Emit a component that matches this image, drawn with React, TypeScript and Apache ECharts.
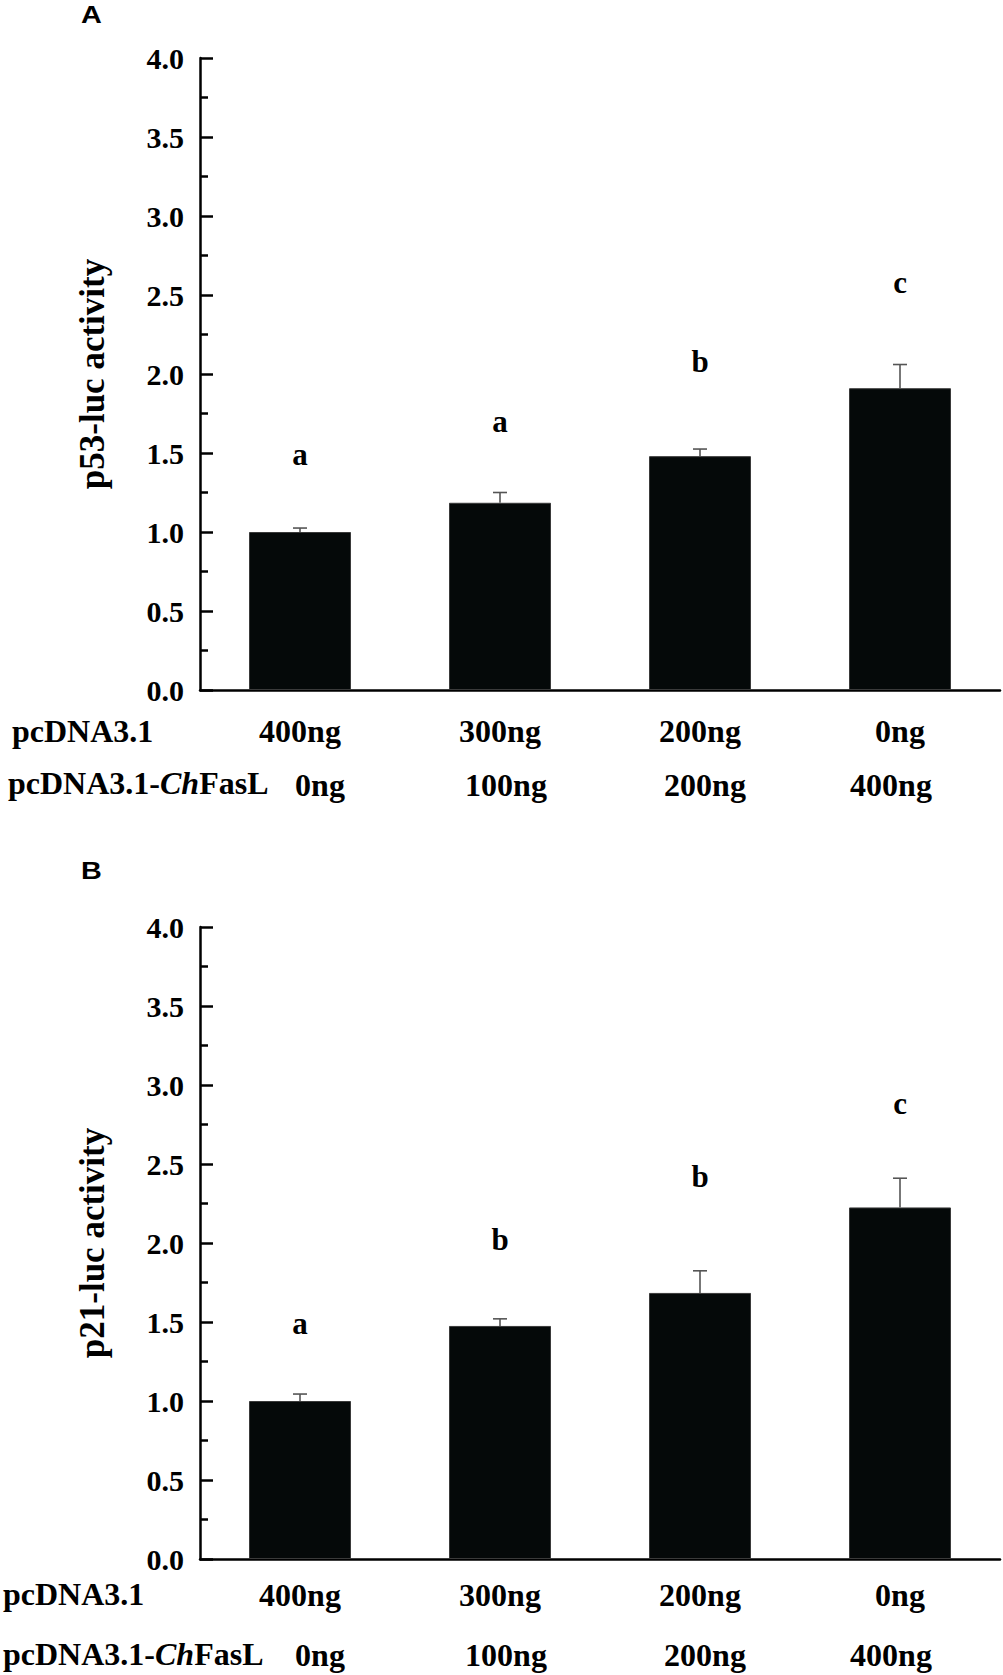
import React, { useEffect, useRef } from "react";
import * as echarts from "echarts";

const categories = ["0", "1", "2", "3"];
const rowOneLabels = ["400ng", "300ng", "200ng", "0ng"];
const rowTwoLabels = ["0ng", "100ng", "200ng", "400ng"];

const p53Values = [1.0, 1.185, 1.48, 1.91];
const p53Errors = [0.025, 0.065, 0.045, 0.15];
const p53Letters = ["a", "a", "b", "c"];
const p53LetterHeights = [1.49, 1.7, 2.08, 2.58];

const p21Values = [1.0, 1.475, 1.684, 2.225];
const p21Errors = [0.044, 0.045, 0.14, 0.185];
const p21Letters = ["a", "b", "b", "c"];
const p21LetterHeights = [1.49, 2.02, 2.42, 2.88];

const yTicks = { min: 0, max: 4, interval: 0.5 };

const SERIF = "'Liberation Serif', 'Times New Roman', serif";
const SANS = "'Liberation Sans', Arial, sans-serif";

// horizontal nudges (px) of the second label row, as in the original figure
const rowTwoShift = [20, 6, 5, -9];

export default function App() {
  const ref = useRef<HTMLDivElement>(null);

  useEffect(() => {
    if (!ref.current) return;
    const chart = echarts.init(ref.current, undefined, { renderer: "svg" });

    const grids = [
      { left: 200, top: 58, width: 800, height: 632 },
      { left: 200, top: 927, width: 800, height: 632 },
    ];

    const rowMargins = [
      [25, 79],
      [20, 80],
    ];

    const baseFont = {
      fontFamily: SERIF,
      fontWeight: "bold",
      fontSize: 32,
      lineHeight: 32,
      color: "#000",
    };

    const shiftRich: any = {};
    rowTwoShift.forEach((d, i) => {
      shiftRich["s" + i] = {
        ...baseFont,
        padding: d >= 0 ? [0, 0, 0, 2 * d] : [0, -2 * d, 0, 0],
      };
    });

    const xAxes: any[] = [];
    const yAxes: any[] = [];
    const yNames = ["p53-luc activity", "p21-luc activity"];
    grids.forEach((g, gi) => {
      xAxes.push({
        type: "category",
        gridIndex: gi,
        position: "bottom",
        data: categories,
        boundaryGap: true,
        axisLine: { show: true, lineStyle: { color: "#000", width: 2.5 } },
        axisTick: { show: false },
        axisLabel: {
          formatter: (_v: string, i: number) => rowOneLabels[i],
          ...baseFont,
          margin: rowMargins[gi][0],
          interval: 0,
        },
        splitLine: { show: false },
      });
      xAxes.push({
        type: "category",
        gridIndex: gi,
        position: "bottom",
        data: categories,
        boundaryGap: true,
        axisLine: { show: false },
        axisTick: { show: false },
        axisLabel: {
          formatter: (_v: string, i: number) => "{s" + i + "|" + rowTwoLabels[i] + "}",
          ...baseFont,
          rich: shiftRich,
          margin: rowMargins[gi][1],
          interval: 0,
        },
        splitLine: { show: false },
      });
      yAxes.push({
        type: "value",
        gridIndex: gi,
        min: yTicks.min,
        max: yTicks.max,
        interval: yTicks.interval,
        name: yNames[gi],
        nameLocation: "middle",
        nameGap: 90,
        nameTextStyle: {
          fontFamily: SERIF,
          fontWeight: "bold",
          fontSize: 35,
          lineHeight: 35,
          color: "#000",
        },
        axisLine: { show: true, lineStyle: { color: "#000", width: 2.5 } },
        axisTick: { show: true, inside: true, length: 13, lineStyle: { color: "#000", width: 2.5 } },
        minorTick: { show: true, splitNumber: 2, length: 8, lineStyle: { color: "#000", width: 2.5 } },
        axisLabel: {
          formatter: (v: number) => v.toFixed(1),
          fontFamily: SERIF,
          fontWeight: "bold",
          fontSize: 30,
          color: "#000",
          margin: 16,
        },
        splitLine: { show: false },
        minorSplitLine: { show: false },
      });
    });

    const errRender = (params: any, api: any) => {
      const x = api.value(0);
      const v = api.value(1);
      const e = api.value(2);
      const p0 = api.coord([x, v]);
      const p1 = api.coord([x, v + e]);
      const half = 7;
      const style = { stroke: "#555", lineWidth: 1.6 };
      return {
        type: "group",
        children: [
          { type: "line", shape: { x1: p0[0], y1: p0[1], x2: p1[0], y2: p1[1] }, style },
          { type: "line", shape: { x1: p1[0] - half, y1: p1[1], x2: p1[0] + half, y2: p1[1] }, style },
        ],
      };
    };

    const panels = [
      { values: p53Values, errors: p53Errors, letters: p53Letters, heights: p53LetterHeights },
      { values: p21Values, errors: p21Errors, letters: p21Letters, heights: p21LetterHeights },
    ];

    const series: any[] = [];
    panels.forEach((p, gi) => {
      series.push({
        type: "bar",
        xAxisIndex: gi * 2,
        yAxisIndex: gi,
        data: p.values,
        barWidth: 102,
        itemStyle: { color: "#050909", borderColor: "#3a3a3a", borderWidth: 1 },
        z: 2,
      });
      series.push({
        type: "custom",
        xAxisIndex: gi * 2,
        yAxisIndex: gi,
        renderItem: errRender,
        data: p.values.map((v, i) => [i, v, p.errors[i]]),
        z: 3,
      });
      series.push({
        type: "custom",
        xAxisIndex: gi * 2,
        yAxisIndex: gi,
        data: p.heights.map((h, i) => [i, h]),
        renderItem: (params: any, api: any) => {
          const pt = api.coord([api.value(0), api.value(1)]);
          return {
            type: "text",
            x: pt[0],
            y: pt[1],
            style: {
              text: p.letters[params.dataIndex],
              fontFamily: SERIF,
              fontWeight: "bold",
              fontSize: 31,
              fill: "#000",
              align: "center",
              verticalAlign: "middle",
            },
          };
        },
        z: 4,
      });
    });

    const rowText = (text: string, x: number, y: number, rich: boolean) => ({
      type: "text",
      left: x,
      top: y - 16,
      style: rich
        ? {
            text: "{n|pcDNA3.1-}{i|Ch}{n|FasL}",
            rich: {
              n: { fontFamily: SERIF, fontWeight: "bold", fontSize: 32, lineHeight: 32, fill: "#000" },
              i: { fontFamily: SERIF, fontWeight: "bold", fontStyle: "italic", fontSize: 32, lineHeight: 32, fill: "#000" },
            },
          }
        : {
            text,
            fontFamily: SERIF,
            fontWeight: "bold",
            fontSize: 32,
            lineHeight: 32,
            fill: "#000",
          },
    });

    const panelLetter = (t: string, y: number) => ({
      type: "text",
      x: 81,
      y,
      scaleX: 1.2,
      style: {
        text: t,
        fontFamily: SANS,
        fontWeight: "bold",
        fontSize: 24,
        fill: "#000",
        verticalAlign: "top",
      },
    });

    chart.setOption({
      animation: false,
      backgroundColor: "#fff",
      grid: grids.map((g) => ({ ...g, containLabel: false })),
      xAxis: xAxes,
      yAxis: yAxes,
      series,
      graphic: [
        panelLetter("A", 3),
        panelLetter("B", 859),
        rowText("pcDNA3.1", 12, 731, false),
        rowText("", 8, 783, true),
        rowText("pcDNA3.1", 3, 1594, false),
        rowText("", 3, 1654, true),
      ],
    });

    return () => {
      chart.dispose();
    };
  }, []);

  return (
    <div
      ref={ref}
      style={{ position: "absolute", left: 0, top: 0, width: 1003, height: 1675, background: "#fff" }}
    />
  );
}
